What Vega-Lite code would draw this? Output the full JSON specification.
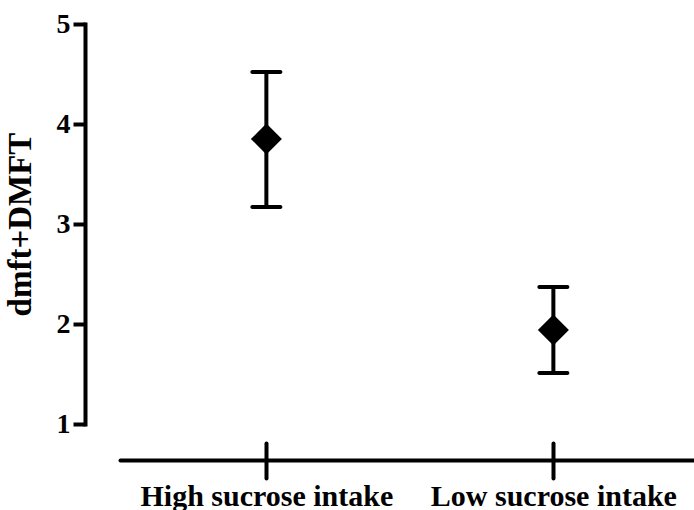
{
  "$schema": "https://vega.github.io/schema/vega-lite/v6.json",
  "autosize": {"type": "none"},
  "padding": {"left": 120, "top": 24, "right": 0, "bottom": 86},
  "width": 574,
  "height": 400,
  "config": {
    "view": {"stroke": null},
    "axis": {"grid": false, "domainColor": "black", "tickColor": "black", "labelColor": "black", "titleColor": "black", "labelFont": "Liberation Serif", "titleFont": "Liberation Serif", "labelFontWeight": "bold", "titleFontWeight": "bold", "labelLimit": 0},
    "axisY": {"offset": 35, "domainWidth": 4, "domainCap": "square", "tickWidth": 4, "tickSize": 12, "labelFontSize": 28, "labelPadding": 3, "titleFontSize": 33, "titlePadding": 19},
    "axisX": {"offset": 36, "domainWidth": 4, "domainCap": "round", "tickWidth": 4, "tickCap": "round", "labelFontSize": 30, "labelPadding": 3, "labelAngle": 0}
  },
  "data": {
    "values": [
      {"group": "High sucrose intake", "mean": 3.85, "lo": 3.17, "hi": 4.52},
      {"group": "Low sucrose intake", "mean": 1.94, "lo": 1.51, "hi": 2.37}
    ]
  },
  "resolve": {"axis": {"x": "independent"}},
  "layer": [
    {
      "mark": {"type": "rule", "strokeWidth": 4, "color": "black"},
      "encoding": {
        "x": {"field": "group", "type": "nominal", "sort": null, "scale": {"type": "point", "padding": 0.5, "align": 0.51},
          "axis": {"orient": "bottom", "title": null, "tickSize": 18}},
        "y": {"field": "lo", "type": "quantitative", "scale": {"domain": [1, 5], "nice": false, "zero": false},
          "axis": {"orient": "left", "values": [1, 2, 3, 4, 5], "format": "d", "title": "dmft+DMFT"}},
        "y2": {"field": "hi"}
      }
    },
    {
      "mark": {"type": "tick", "orient": "horizontal", "thickness": 4, "size": 32, "color": "black", "cornerRadius": 2, "opacity": 1},
      "encoding": {
        "x": {"field": "group", "type": "nominal", "sort": null,
          "axis": {"orient": "bottom", "title": null, "domain": false, "labels": false, "tickSize": -17}},
        "y": {"field": "lo", "type": "quantitative", "axis": {"orient": "left", "values": [1, 2, 3, 4, 5], "format": "d", "title": "dmft+DMFT"}}
      }
    },
    {
      "mark": {"type": "tick", "orient": "horizontal", "thickness": 4, "size": 32, "color": "black", "cornerRadius": 2, "opacity": 1},
      "encoding": {
        "x": {"field": "group", "type": "nominal", "sort": null, "axis": null},
        "y": {"field": "hi", "type": "quantitative", "axis": {"orient": "left", "values": [1, 2, 3, 4, 5], "format": "d", "title": "dmft+DMFT"}}
      }
    },
    {
      "mark": {"type": "point", "shape": "diamond", "filled": true, "size": 960, "color": "black", "opacity": 1},
      "encoding": {
        "x": {"field": "group", "type": "nominal", "sort": null, "axis": null},
        "y": {"field": "mean", "type": "quantitative", "axis": {"orient": "left", "values": [1, 2, 3, 4, 5], "format": "d", "title": "dmft+DMFT"}}
      }
    }
  ]
}
